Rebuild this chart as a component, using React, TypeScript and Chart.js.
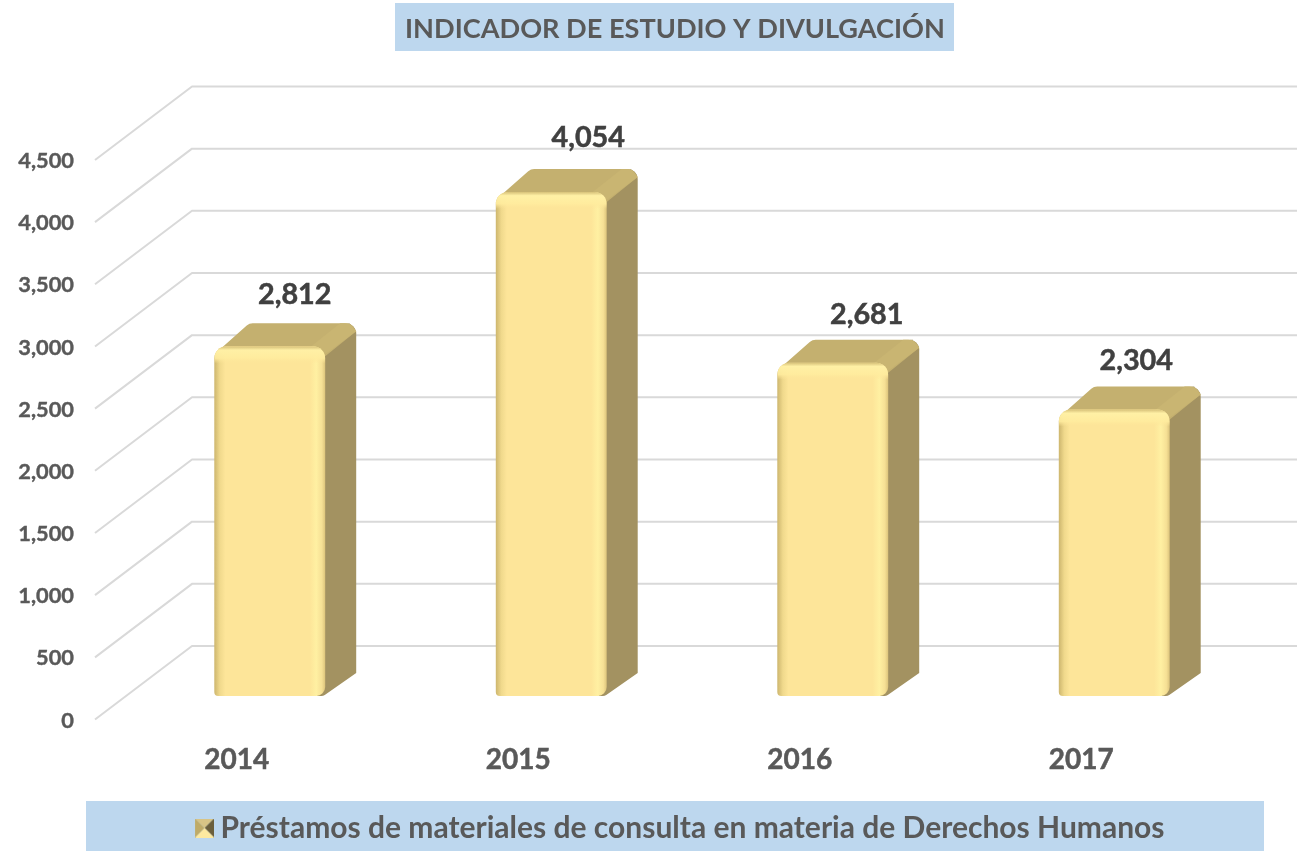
import React, { useEffect, useRef } from "react";
import { Chart, registerables } from "chart.js";

Chart.register(...registerables);

const categories = ["2014", "2015", "2016", "2017"];
const prestamos = [2812, 4054, 2681, 2304];
const seriesName = "Préstamos de materiales de consulta en materia de Derechos Humanos";
const chartTitle = "INDICADOR DE ESTUDIO Y DIVULGACIÓN";
const labelShiftX = [25, 37, 34, 22];
const labelShiftY = [-52, -54, -48, -49];

const FONT = "Lato";
const HEAVY = "bold";
const DEPTH_X = 31;
const DEPTH_Y = 23;
const WALL_X = 63; // back wall, right of the plot's left edge
const WALL_Y = 50;
const FRONT_X = -34;
const FRONT_Y = 23.5;
const BAR_PCT = 0.394;

type P = [number, number, number];

function poly(ctx: CanvasRenderingContext2D, pts: P[]) {
  ctx.beginPath();
  const n = pts.length;
  const last = pts[n - 1];
  const first = pts[0];
  ctx.moveTo((last[0] + first[0]) / 2, (last[1] + first[1]) / 2);
  for (let i = 0; i < n; i++) {
    const a = pts[i];
    const b = pts[(i + 1) % n];
    ctx.arcTo(a[0], a[1], (a[0] + b[0]) / 2, (a[1] + b[1]) / 2, a[2]);
  }
  ctx.closePath();
}

function makeIcon() {
  const c = document.createElement("canvas");
  c.width = 37;
  c.height = 19;
  const g = c.getContext("2d")!;
  const x = 18;
  const s = 19;
  const mx = x + s / 2;
  const my = s / 2;
  const tri = (pts: number[][], col: string) => {
    g.beginPath();
    g.moveTo(pts[0][0], pts[0][1]);
    g.lineTo(pts[1][0], pts[1][1]);
    g.lineTo(pts[2][0], pts[2][1]);
    g.closePath();
    g.fillStyle = col;
    g.fill();
  };
  tri([[x, 0], [x + s, 0], [mx, my]], "#d8c486");
  tri([[x + s, 0], [x + s, s], [mx, my]], "#6b5f3c");
  tri([[x, s], [x + s, s], [mx, my]], "#fde9a0");
  tri([[x, 0], [x, s], [mx, my]], "#bfab68");
  return c;
}

const backdrop = {
  id: "backdrop",
  afterLayout(chart: any) {
    // tick labels sit far left of the plot; widen the axis clip box to reach them
    chart.scales.y.left = 0;
  },
  beforeDraw(chart: any) {
    const { ctx } = chart;
    ctx.save();
    ctx.fillStyle = "#bdd7ee";
    const t = chart.titleBlock;
    const cx = (t.left + t.right) / 2;
    ctx.fillRect(cx - 280, 3, 559, 48);
    const l = chart.legend;
    ctx.fillRect(86, l.top - 3, 1178, 51);
    ctx.restore();
  },
};

const wallGrid = {
  id: "wallGrid",
  beforeDatasetsDraw(chart: any) {
    const { ctx, chartArea, scales } = chart;
    ctx.save();
    ctx.strokeStyle = "#d9d9d9";
    ctx.lineWidth = 2;
    ctx.lineJoin = "round";
    scales.y.ticks.forEach((t: any) => {
      const y = scales.y.getPixelForValue(t.value);
      ctx.beginPath();
      ctx.moveTo(chartArea.left + FRONT_X, y + FRONT_Y);
      ctx.lineTo(chartArea.left + WALL_X, y - WALL_Y);
      ctx.lineTo(chartArea.right + 42, y - WALL_Y);
      ctx.stroke();
    });
    // top and side faces sit behind the native front face
    chart.getDatasetMeta(0).data.forEach((bar: any) => {
      const half = bar.width / 2;
      const x1 = bar.x - half;
      const x2 = bar.x + half;
      const top = bar.y;
      const base = bar.base;
      const backTop = top - DEPTH_Y;
      ctx.fillStyle = "#a39261";
      poly(ctx, [
        [x2 - 8, top, 0],
        [x2 + DEPTH_X - 6, backTop, 0],
        [x2 + DEPTH_X, backTop, 10],
        [x2 + DEPTH_X, base - DEPTH_Y, 0],
        [x2 - 2, base, 6],
        [x2 - 8, base, 0],
      ]);
      ctx.fill();
      ctx.fillStyle = "#c4b06f";
      poly(ctx, [
        [x1, top + 8, 3],
        [x1 + DEPTH_X + 4, backTop, 9],
        [x2 + DEPTH_X, backTop, 11],
        [x2 + DEPTH_X, backTop + 8, 0],
        [x2, top + 10, 0],
      ]);
      ctx.fill();
      ctx.fillStyle = "#c9b572";
      poly(ctx, [
        [x2 - 14, top, 0],
        [x2 + DEPTH_X - 16, backTop, 0],
        [x2 + DEPTH_X - 6, backTop, 8],
        [x2 + DEPTH_X, backTop + 8, 0],
        [x2, top + 8, 0],
      ]);
      ctx.fill();
    });
    ctx.restore();
  },
};

const barOverlay = {
  id: "barOverlay",
  afterDatasetsDraw(chart: any) {
    const { ctx } = chart;
    ctx.save();
    chart.getDatasetMeta(0).data.forEach((bar: any, i: number) => {
      const half = bar.width / 2;
      const x1 = bar.x - half;
      const top = bar.y;
      ctx.save();
      ctx.beginPath();
      ctx.roundRect(x1, top, bar.width, 17, [12, 12, 0, 0]);
      ctx.clip();
      const v = ctx.createLinearGradient(0, top, 0, top + 17);
      v.addColorStop(0, "rgba(214,192,120,1)");
      v.addColorStop(0.22, "rgba(255,240,165,1)");
      v.addColorStop(0.7, "rgba(255,236,158,0.9)");
      v.addColorStop(1, "rgba(253,229,153,0)");
      ctx.fillStyle = v;
      ctx.fillRect(x1, top, bar.width, 17);
      ctx.restore();
      ctx.font = `${HEAVY} 28.8px ${FONT}`;
      ctx.fillStyle = "#404040";
      ctx.strokeStyle = "#404040";
      ctx.lineWidth = 0.5;
      ctx.textAlign = "center";
      ctx.textBaseline = "middle";
      const text = prestamos[i].toLocaleString("en-US");
      ctx.fillText(text, bar.x + labelShiftX[i], bar.y + labelShiftY[i]);
      ctx.strokeText(text, bar.x + labelShiftX[i], bar.y + labelShiftY[i]);
    });
    ctx.restore();
  },
};

export default function App() {
  const ref = useRef<HTMLCanvasElement>(null);
  useEffect(() => {
    const icon = makeIcon();
    const chart = new Chart(ref.current!, {
      type: "bar",
      data: {
        labels: categories,
        datasets: [
          {
            label: seriesName,
            data: prestamos,
            barPercentage: BAR_PCT,
            categoryPercentage: 1,
            borderSkipped: false,
            borderRadius: { topLeft: 12, topRight: 12, bottomLeft: 4, bottomRight: 9 },
            pointStyle: icon,
            backgroundColor: (c: any) => {
              const x = c.chart.scales?.x;
              if (!x || c.dataIndex === undefined) return "#fde599";
              const cx = x.getPixelForValue(c.dataIndex);
              const w = (x.width / categories.length) * BAR_PCT;
              if (!Number.isFinite(cx) || !Number.isFinite(w)) return "#fde599";
              const g = c.chart.ctx.createLinearGradient(cx - w / 2, 0, cx + w / 2, 0);
              g.addColorStop(0, "#cdb66e");
              g.addColorStop(0.05, "#f0d98c");
              g.addColorStop(0.1, "#fde599");
              g.addColorStop(0.86, "#fde599");
              g.addColorStop(0.92, "#fff0a2");
              g.addColorStop(0.97, "#f6e095");
              g.addColorStop(1, "#dcc47c");
              return g;
            },
          },
        ],
      },
      options: {
        responsive: false,
        animation: false,
        layout: { padding: { left: 95, right: 42, top: 0, bottom: -2 }, autoPadding: false },
        scales: {
          x: {
            grid: { display: false, drawTicks: false },
            border: { display: false },
            afterFit: (s: any) => {
              s.height = 108;
            },
            ticks: {
              color: "#595959",
              font: { family: FONT, weight: HEAVY, size: 28 },
              textStrokeColor: "#595959",
              textStrokeWidth: 0.5,
              padding: 47,
              labelOffset: -33,
              maxRotation: 0,
            },
          },
          y: {
            min: 0,
            max: 4500,
            grid: { display: false, drawTicks: false },
            border: { display: false },
            afterFit: (s: any) => {
              s.width = 34;
            },
            ticks: {
              stepSize: 500,
              color: "#595959",
              font: { family: FONT, weight: HEAVY, size: 21.8 },
              textStrokeColor: "#595959",
              textStrokeWidth: 0.4,
              padding: 55,
              labelOffset: 24.5,
              callback: (v: any) => Number(v).toLocaleString("en-US"),
            },
          },
        },
        plugins: {
          tooltip: { enabled: false },
          title: {
            display: true,
            text: chartTitle,
            color: "#595959",
            font: { family: FONT, weight: HEAVY, size: 27.15 },
            padding: { top: 12.8, bottom: 91.1 },
          },
          legend: {
            display: true,
            position: "bottom",
            labels: {
              usePointStyle: true,
              pointStyleWidth: 20,
              boxHeight: 19,
              padding: 9,
              color: "#595959",
              font: { family: FONT, weight: HEAVY, size: 30 },
            },
          },
        },
      },
      plugins: [backdrop, wallGrid, barOverlay],
    } as any);
    return () => chart.destroy();
  }, []);
  return (
    <div style={{ position: "absolute", left: 0, top: 0, width: 1297, height: 851, overflow: "hidden", background: "#fff" }}>
      <canvas ref={ref} width={1297} height={851} style={{ display: "block" }} />
    </div>
  );
}
